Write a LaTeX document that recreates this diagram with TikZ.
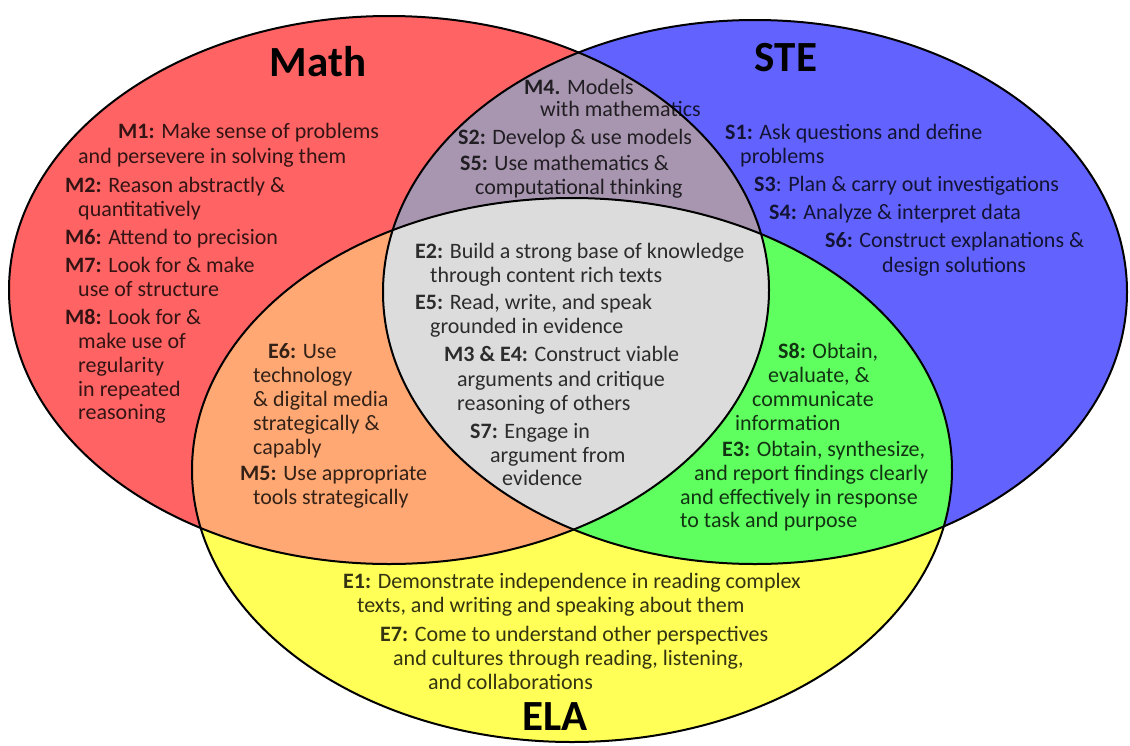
\documentclass[tikz,border=0pt]{standalone}
\usepackage{fontspec}
\setmainfont{Carlito}
\definecolor{cMath}{RGB}{255,99,99}
\definecolor{cSTE}{RGB}{98,98,255}
\definecolor{cELA}{RGB}{255,255,88}
\definecolor{cME}{RGB}{255,168,115}
\definecolor{cSE}{RGB}{94,255,94}
\definecolor{cMS}{RGB}{168,150,176}
\definecolor{cAll}{RGB}{220,220,220}
\tikzset{
  txt/.style={anchor=base west, inner sep=0pt, font=\fontsize{22}{24}\selectfont, text=black, text opacity=0.8},
  ttl/.style={anchor=base, inner sep=0pt, font=\fontsize{43}{46}\selectfont\bfseries, text=black},
  Mset/.style={insert path={(389,290) ellipse [x radius=380pt, y radius=274pt]}},
  Sset/.style={insert path={(755,292) ellipse [x radius=372pt, y radius=272pt]}},
  Eset/.style={insert path={(572,470) ellipse [x radius=380pt, y radius=272pt]}},
  outline/.style={draw=black, line width=2pt}
}
\begin{document}
\begin{tikzpicture}[x=1pt,y=-1pt]
\useasboundingbox (0,0) rectangle (1130,745);
\fill[white] (0,0) rectangle (1130,745);
% base fills
\fill[cMath, Mset];
\fill[cSTE, Sset];
\fill[cELA, Eset];
\begin{scope}\clip[Mset]; \fill[cME, Eset]; \end{scope}
\begin{scope}\clip[Sset]; \fill[cSE, Eset]; \end{scope}
\begin{scope}\clip[Mset]; \fill[cMS, Sset]; \end{scope}
\begin{scope}\clip[Mset]; \clip[Sset]; \fill[cAll, Eset]; \end{scope}
\path[outline, Mset];
\path[outline, Sset];
\path[outline, Eset];
% titles
\node[ttl] (tMath) at (318,76) {Math};
\node[ttl] (tSTE) at (786,71) {STE};
\node[ttl] (tELA) at (555,730) {ELA};
% Math
\node[txt] (m1a) at (118,138) {\textbf{M1:} Make sense of problems};
\node[txt] (m1b) at (78,163) {and persevere in solving them};
\node[txt] (m2a) at (65,192) {\textbf{M2:} Reason abstractly \&};
\node[txt] (m2b) at (78,216) {quantitatively};
\node[txt] (m6) at (65,244) {\textbf{M6:} Attend to precision};
\node[txt] (m7a) at (65,272) {\textbf{M7:} Look for \& make};
\node[txt] (m7b) at (78,296) {use of structure};
\node[txt] (m8a) at (65,324) {\textbf{M8:} Look for \&};
\node[txt] (m8b) at (78,348) {make use of};
\node[txt] (m8c) at (78,372) {regularity};
\node[txt] (m8d) at (78,396) {in repeated};
\node[txt] (m8e) at (78,419) {reasoning};
% Math & STE
\node[txt] (m4a) at (524,94) {\textbf{M4.} Models};
\node[txt] (m4b) at (540,116) {with mathematics};
\node[txt] (s2) at (458,144) {\textbf{S2:} Develop \& use models};
\node[txt] (s5a) at (460,170) {\textbf{S5:} Use mathematics \&};
\node[txt] (s5b) at (475,194) {computational thinking};
% STE
\node[txt] (s1a) at (725,139) {\textbf{S1:} Ask questions and define};
\node[txt] (s1b) at (740,163) {problems};
\node[txt] (s3) at (754,191) {\textbf{S3}: Plan \& carry out investigations};
\node[txt] (s4) at (769,219) {\textbf{S4:} Analyze \& interpret data};
\node[txt] (s6a) at (825,247) {\textbf{S6:} Construct explanations \&};
\node[txt] (s6b) at (882,272) {design solutions};
% all three
\node[txt] (e2a) at (415,258) {\textbf{E2:} Build a strong base of knowledge};
\node[txt] (e2b) at (430,282) {through content rich texts};
\node[txt] (e5a) at (415,309) {\textbf{E5:} Read, write, and speak};
\node[txt] (e5b) at (430,333) {grounded in evidence};
\node[txt] (m3a) at (444,361) {\textbf{M3 \& E4:} Construct viable};
\node[txt] (m3b) at (457,386) {arguments and critique};
\node[txt] (m3c) at (457,410) {reasoning of others};
\node[txt] (s7a) at (470,438) {\textbf{S7:} Engage in};
\node[txt] (s7b) at (490,462) {argument from};
\node[txt] (s7c) at (502,485) {evidence};
% Math & ELA
\node[txt] (e6a) at (268,358) {\textbf{E6:} Use};
\node[txt] (e6b) at (253,382) {technology};
\node[txt] (e6c) at (253,406) {\& digital media};
\node[txt] (e6d) at (253,430) {strategically \&};
\node[txt] (e6e) at (253,454) {capably};
\node[txt] (m5a) at (240,480) {\textbf{M5:} Use appropriate};
\node[txt] (m5b) at (253,504) {tools strategically};
% STE & ELA
\node[txt] (s8a) at (778,358) {\textbf{S8:} Obtain,};
\node[txt] (s8b) at (768,382) {evaluate, \&};
\node[txt] (s8c) at (752,406) {communicate};
\node[txt] (s8d) at (735,430) {information};
\node[txt] (e3a) at (722,456) {\textbf{E3:} Obtain, synthesize,};
\node[txt] (e3b) at (694,480) {and report findings clearly};
\node[txt] (e3c) at (680,504) {and effectively in response};
\node[txt] (e3d) at (680,527) {to task and purpose};
% ELA
\node[txt] (e1a) at (343,588) {\textbf{E1:} Demonstrate independence in reading complex};
\node[txt] (e1b) at (357,612) {texts, and writing and speaking about them};
\node[txt] (e7a) at (380,641) {\textbf{E7:} Come to understand other perspectives};
\node[txt] (e7b) at (393,665) {and cultures through reading, listening,};
\node[txt] (e7c) at (428,689) {and collaborations};
\end{tikzpicture}
\end{document}
